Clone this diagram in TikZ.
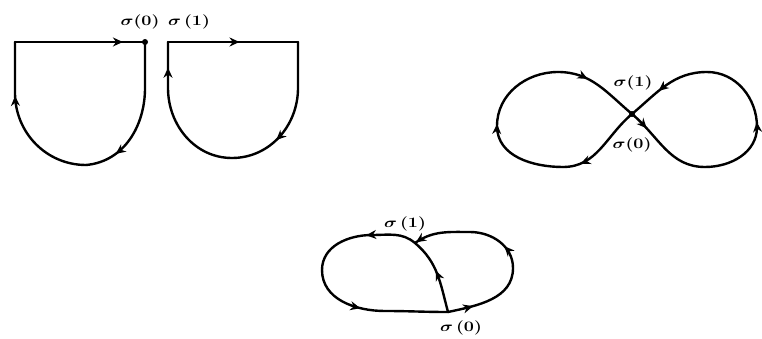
\documentclass[tikz,border=0pt]{standalone}
\usetikzlibrary{arrows.meta,decorations.markings}
\begin{document}
\begin{tikzpicture}[x=1pt,y=1pt,
  curve/.style={draw=black,line width=2.4pt,line cap=round,line join=round},
  arrowat/.style={postaction={decorate,decoration={markings,
    mark=at position #1 with {\arrow{Stealth[length=10pt,width=9pt]}}}}},
  sig/.style={font=\Large\bfseries\boldmath,inner sep=1pt,xscale=1.25},
]
\useasboundingbox[fill=white] (0,0) rectangle (762,338);
% two open loops
\coordinate (tl) at (15,296);
\coordinate (s0) at (145,296);
\coordinate (s1) at (168,296);
\coordinate (tr) at (298,296);
\coordinate (b1) at (86,173);
\coordinate (b2) at (232,180);
\draw[curve,arrowat=0.83] (tl) -- (s0);
\draw[curve,arrowat=0.79] (s0) -- (145,250) to[out=-90,in=5] (b1);
\draw[curve,arrowat=0.67] (b1) to[out=180,in=-90] (15,245) -- (tl);
\draw[curve,arrowat=0.55] (s1) -- (tr);
\draw[curve,arrowat=0.68] (tr) -- (298,250) to[out=-90,in=0] (b2);
\draw[curve,arrowat=0.83] (b2) to[out=180,in=-90] (168,250) -- (s1);
\fill (s0) circle (3pt);
\node[sig] (sa0) at (140,316) {$\sigma$(0)};
\node[sig] (sa1) at (189,316) {$\sigma$\,(1)};
% figure eight
\coordinate (c) at (632,224);
\coordinate (rb) at (705,171);
\coordinate (re) at (757,211);
\coordinate (rt) at (707,266);
\coordinate (lb) at (563,171);
\coordinate (le) at (497,212);
\coordinate (lt) at (558,266);
\draw[curve,arrowat=0.22] (c) to[out=-40,in=180] (rb);
\draw[curve,arrowat=0.5] (rb) to[out=0,in=-90] (re) to[out=90,in=0] (rt);
\draw[curve,arrowat=0.6] (rt) to[out=180,in=40] (c);
\draw[curve,arrowat=0.8] (c) to[out=220,in=0] (lb);
\draw[curve,arrowat=0.5] (lb) to[out=180,in=-90] (le) to[out=90,in=180] (lt);
\draw[curve,arrowat=0.35] (lt) to[out=0,in=140] (c);
\fill (c) circle (3pt);
\node[sig] (sb1) at (633,255) {$\sigma$(1)};
\node[sig] (sb0) at (632,193) {$\sigma$(0)};
% egg with side loop
\coordinate (t0) at (448,26);
\coordinate (t1) at (415,95);
\coordinate (et) at (372,103);
\coordinate (el) at (322,68);
\coordinate (eb) at (385,27);
\coordinate (rr) at (513,70);
\coordinate (rtop) at (470,106);
\draw[curve,arrowat=0.55] (t0) to[out=105,in=-40] (t1);
\draw[curve,arrowat=0.45] (t1) to[out=140,in=0] (et) to[out=180,in=90] (el);
\draw[curve,arrowat=0.4] (el) to[out=-90,in=180] (eb) to[out=0,in=180] (t0);
\draw[curve,arrowat=0.3] (t0) to[out=12,in=-90] (rr);
\draw[curve,arrowat=0.2,arrowat=0.99] (rr) to[out=90,in=0] (rtop) to[out=180,in=35] (t1);
\node[sig] (sc1) at (405,114) {$\sigma$\,(1)};
\node[sig] (sc0) at (461,10) {$\sigma$\,(0)};
\end{tikzpicture}
\end{document}
